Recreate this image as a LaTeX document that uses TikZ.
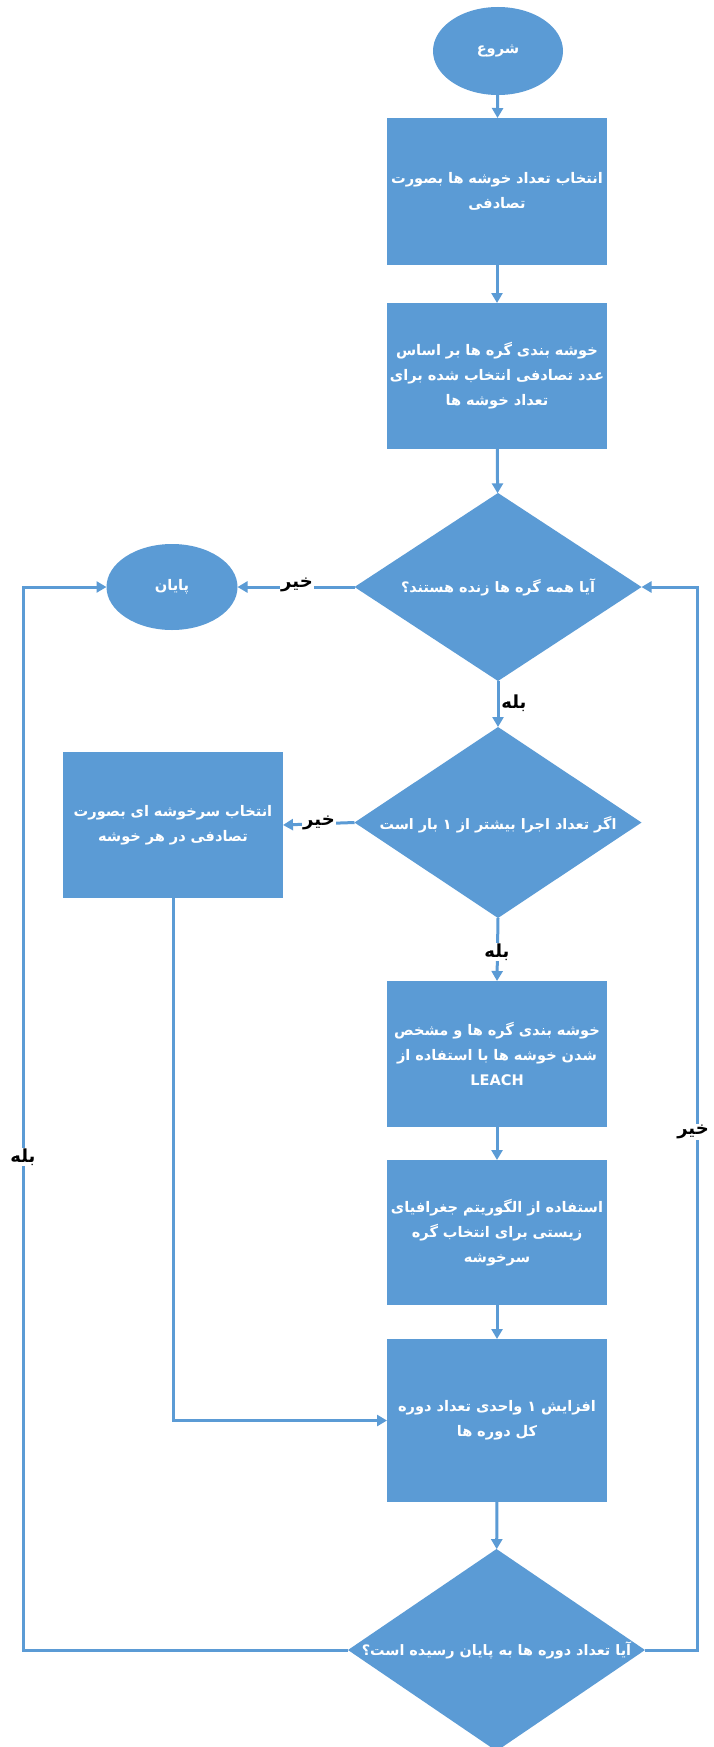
\documentclass[tikz,border=0pt]{standalone}
\usepackage{fontspec}
\usetikzlibrary{arrows.meta,shapes.geometric}
\newfontfamily\arabicfont[Script=Arabic]{DejaVu Sans}
\TeXXeTstate=1
\newcommand{\fatext}[1]{\beginR #1\endR}
\definecolor{fc}{RGB}{91,155,213}
\begin{document}
\begin{tikzpicture}[x=1pt,y=-1pt,
  every node/.style={inner sep=0pt, outer sep=0pt},
  boxnode/.style={rectangle, fill=fc, minimum width=220pt, text width=218pt, align=center, text=white, font=\arabicfont\bfseries\fontsize{14.6}{25}\selectfont},
  ovalnode/.style={ellipse, fill=fc, minimum width=130pt, minimum height=88pt, text=white, font=\arabicfont\bfseries\fontsize{14.6}{17}\selectfont},
  dianode/.style={diamond, fill=fc},
  dtext/.style={text=white, font=\arabicfont\bfseries\fontsize{14.4}{17}\selectfont},
  lbl/.style={font=\arabicfont\bfseries\fontsize{18}{20}\selectfont, text=black, fill=white, inner sep=1pt},
  conn/.style={draw=fc, line width=3pt},
  arr/.style={conn, -{Triangle[length=10pt,width=11pt]}}
]
\useasboundingbox[fill=white] (0,0) rectangle (713,1747);

\node[ovalnode] (start) at (498,51) {\fatext{شروع}};
\node[boxnode, minimum height=147pt] (b1) at (497,191.5) {\fatext{انتخاب تعداد خوشه ها بصورت}\\\fatext{تصادفی}};
\node[boxnode, minimum height=146pt] (b2) at (497,376) {\fatext{خوشه بندی گره ها بر اساس}\\\fatext{عدد تصادفی انتخاب شده برای}\\\fatext{تعداد خوشه ها}};
\node[dianode, minimum width=287pt, minimum height=188pt] (d1) at (498,587) {};
\node[dtext] (t1) at (d1.center) {\fatext{آیا همه گره ها زنده هستند؟}};
\node[ovalnode, minimum width=131pt, minimum height=86pt] (end) at (172,587) {\fatext{پایان}};
\node[dianode, minimum width=287pt, minimum height=191pt] (d2) at (498,822.5) {};
\node[dtext] (t2) at (498,825) {\fatext{اگر تعداد اجرا بیشتر از ۱ بار است}};
\node[boxnode, minimum height=146pt] (lb) at (173,825) {\fatext{انتخاب سرخوشه ای بصورت}\\\fatext{تصادفی در هر خوشه}};
\node[boxnode, minimum height=146pt] (leach) at (497,1054) {\fatext{خوشه بندی گره ها و مشخص}\\\fatext{شدن خوشه ها با استفاده از}\\LEACH};
\node[boxnode, minimum height=145pt] (geo) at (497,1232.5) {\fatext{استفاده از الگوریتم جغرافیای}\\\fatext{زیستی برای انتخاب گره}\\\fatext{سرخوشه}};
\node[boxnode, minimum height=163pt] (inc) at (497,1420.5) {\fatext{افزایش ۱ واحدی تعداد دوره}\\\fatext{کل دوره ها}};
\node[dianode, minimum width=297pt, minimum height=202pt] (d3) at (496.5,1650) {};
\node[dtext] (t3) at (d3.center) {\fatext{آیا تعداد دوره ها به پایان رسیده است؟}};

\coordinate (L) at (23,1650);
\coordinate (R) at (697,1650);

\draw[arr] (start) -- (b1);
\draw[arr] (b1) -- (b2);
\draw[arr] (b2) -- (d1);
\draw[arr] (d1.west) -- (end.east);
\draw[arr] (d1.south) -- (d2.north);
\draw[arr] (d2.west) -- (lb.east);
\draw[arr] (d2.south) -- (leach.north);
\draw[arr] (leach) -- (geo);
\draw[arr] (geo) -- (inc);
\draw[arr] (lb.south) |- (inc.west);
\draw[arr] (inc) -- (d3);
\draw[arr] (d3.west) -- (L) |- (end.west);
\draw[arr] (d3.east) -- (R) |- (d1.east);

\node[lbl] (l1) at (297,585) {\fatext{خیر}};
\node[lbl, fill=none] (l2) at (514,703) {\fatext{بله}};
\node[lbl] (l3) at (319,823) {\fatext{خیر}};
\node[lbl] (l4) at (497,952) {\fatext{بله}};
\node[lbl] (l5) at (23,1157) {\fatext{بله}};
\node[lbl] (l6) at (693,1132) {\fatext{خیر}};
\end{tikzpicture}
\end{document}
